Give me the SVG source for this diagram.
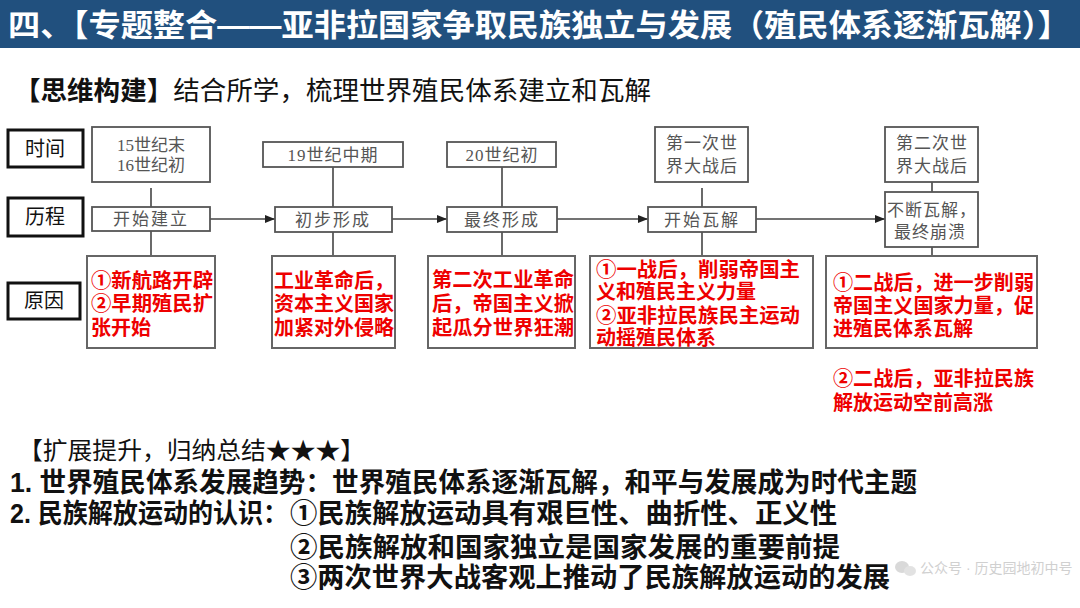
<svg xmlns="http://www.w3.org/2000/svg" width="1080" height="608" viewBox="0 0 1080 608">
<defs>
<style>
.sans{font-family:"Liberation Sans","Noto Sans CJK SC",sans-serif}
.lbl{fill:#fff;stroke:#111;stroke-width:3}
.gbox{fill:#fff;stroke:#555;stroke-width:1.8}
.cbox{fill:#fff;stroke:#666;stroke-width:2}
.gtxt{font-family:"Liberation Serif","Noto Sans CJK SC",serif;font-size:17px;fill:#555;text-anchor:middle}
.ltxt{font-family:"Liberation Sans","Noto Sans CJK SC",sans-serif;font-size:20px;fill:#111;text-anchor:middle}
.red{font-family:"Liberation Sans","Noto Sans CJK SC",sans-serif;font-size:20px;font-weight:700;fill:#ee0000}
.bt{font-family:"Liberation Sans","Noto Sans CJK SC",sans-serif;font-size:27px;font-weight:700;fill:#111}
.conn{stroke:#444;stroke-width:1.6;fill:none}
</style>
<marker id="ah" viewBox="0 0 10 8" refX="10" refY="4" markerWidth="10" markerHeight="8" markerUnits="userSpaceOnUse" orient="auto">
<path d="M0,0 L10,4 L0,8 z" fill="#222"/>
</marker>
</defs>
<rect width="1080" height="608" fill="#fff"/>

<g id="title">
<rect x="0" y="0" width="1080" height="48" fill="#21507e"/>
<text x="8" y="36" class="sans" font-size="31" font-weight="700" fill="#fff" textLength="1062" lengthAdjust="spacingAndGlyphs">四、【专题整合——亚非拉国家争取民族独立与发展（殖民体系逐渐瓦解）】</text>
</g>

<g id="subtitle">
<text x="14" y="100" class="sans" font-size="26" fill="#111" textLength="637" lengthAdjust="spacingAndGlyphs"><tspan font-weight="700">【思维构建】</tspan>结合所学，梳理世界殖民体系建立和瓦解</text>
</g>

<g id="row-labels">
<g id="lbl-time"><rect x="8" y="130" width="75" height="37" class="lbl"/><text x="45" y="156" class="ltxt">时间</text></g>
<g id="lbl-process"><rect x="8" y="198" width="75" height="38" class="lbl"/><text x="45" y="224" class="ltxt">历程</text></g>
<g id="lbl-cause"><rect x="8" y="283" width="72" height="36" class="lbl"/><text x="44" y="308" class="ltxt">原因</text></g>
</g>

<g id="connectors">
<line class="conn" x1="151" y1="188" x2="151" y2="207"/>
<line class="conn" x1="151" y1="231" x2="151" y2="256"/>
<line class="conn" x1="333" y1="167" x2="333" y2="207"/>
<line class="conn" x1="333" y1="232" x2="333" y2="256"/>
<line class="conn" x1="502" y1="167" x2="502" y2="207"/>
<line class="conn" x1="502" y1="232" x2="502" y2="256"/>
<line class="conn" x1="702" y1="188" x2="702" y2="207"/>
<line class="conn" x1="702" y1="232" x2="702" y2="256"/>
<line class="conn" x1="932" y1="182" x2="932" y2="192"/>
<line class="conn" x1="932" y1="247" x2="932" y2="256"/>
<line class="conn" x1="210" y1="219" x2="275" y2="219" marker-end="url(#ah)"/>
<line class="conn" x1="392" y1="219" x2="447" y2="219" marker-end="url(#ah)"/>
<line class="conn" x1="557" y1="219" x2="648" y2="219" marker-end="url(#ah)"/>
<line class="conn" x1="756" y1="219" x2="885" y2="219" marker-end="url(#ah)"/>
</g>

<g id="col1">
<g id="t1"><rect x="92" y="127" width="118" height="55" class="gbox"/><text x="151" y="151" class="gtxt">15世纪末</text><text x="151" y="171" class="gtxt">16世纪初</text></g>
<g id="p1"><rect x="92" y="207" width="118" height="24" class="gbox"/><text x="151" y="225" class="gtxt" letter-spacing="2">开始建立</text></g>
<g id="c1"><rect x="87" y="256" width="128" height="92" class="cbox"/>
<text x="91" y="288" class="red" textLength="122" lengthAdjust="spacingAndGlyphs">①新航路开辟</text>
<text x="91" y="311" class="red" textLength="122" lengthAdjust="spacingAndGlyphs">②早期殖民扩</text>
<text x="91" y="335" class="red">张开始</text></g>
</g>

<g id="col2">
<g id="t2"><rect x="263" y="142" width="140" height="25" class="gbox"/><text x="333" y="161" class="gtxt" letter-spacing="1">19世纪中期</text></g>
<g id="p2"><rect x="275" y="207" width="117" height="25" class="gbox"/><text x="333" y="226" class="gtxt" letter-spacing="2">初步形成</text></g>
<g id="c2"><rect x="272" y="256" width="123" height="92" class="cbox"/>
<text x="274" y="288" class="red">工业革命后，</text>
<text x="274" y="311" class="red" textLength="120" lengthAdjust="spacingAndGlyphs">资本主义国家</text>
<text x="274" y="335" class="red" textLength="120" lengthAdjust="spacingAndGlyphs">加紧对外侵略</text></g>
</g>

<g id="col3">
<g id="t3"><rect x="447" y="142" width="109" height="25" class="gbox"/><text x="502" y="161" class="gtxt" letter-spacing="1">20世纪初</text></g>
<g id="p3"><rect x="447" y="207" width="110" height="25" class="gbox"/><text x="502" y="226" class="gtxt" letter-spacing="2">最终形成</text></g>
<g id="c3"><rect x="428" y="256" width="147" height="92" class="cbox"/>
<text x="432" y="287" class="red" textLength="142" lengthAdjust="spacingAndGlyphs">第二次工业革命</text>
<text x="432" y="311" class="red" textLength="142" lengthAdjust="spacingAndGlyphs">后，帝国主义掀</text>
<text x="432" y="335" class="red" textLength="142" lengthAdjust="spacingAndGlyphs">起瓜分世界狂潮</text></g>
</g>

<g id="col4">
<g id="t4"><rect x="655" y="127" width="93" height="55" class="gbox"/><text x="702" y="149" class="gtxt" letter-spacing="1">第一次世</text><text x="702" y="172" class="gtxt" letter-spacing="1">界大战后</text></g>
<g id="p4"><rect x="648" y="207" width="108" height="25" class="gbox"/><text x="702" y="226" class="gtxt" letter-spacing="2">开始瓦解</text></g>
<g id="c4"><rect x="590" y="256" width="223" height="92" class="cbox"/>
<text x="596" y="277" class="red" textLength="204" lengthAdjust="spacingAndGlyphs">①一战后，削弱帝国主</text>
<text x="596" y="299" class="red">义和殖民主义力量</text>
<text x="596" y="323" class="red" textLength="204" lengthAdjust="spacingAndGlyphs">②亚非拉民族民主运动</text>
<text x="596" y="345" class="red">动摇殖民体系</text></g>
</g>

<g id="col5">
<g id="t5"><rect x="885" y="127" width="93" height="55" class="gbox"/><text x="932" y="149" class="gtxt" letter-spacing="1">第二次世</text><text x="932" y="172" class="gtxt" letter-spacing="1">界大战后</text></g>
<g id="p5"><rect x="885" y="192" width="93" height="55" class="gbox"/><text x="932" y="216" class="gtxt" letter-spacing="1">不断瓦解，</text><text x="930" y="238" class="gtxt" letter-spacing="1">最终崩溃</text></g>
<g id="c5"><rect x="826" y="256" width="211" height="92" class="cbox"/>
<text x="833" y="290" class="red" textLength="201" lengthAdjust="spacingAndGlyphs">①二战后，进一步削弱</text>
<text x="833" y="313" class="red" textLength="201" lengthAdjust="spacingAndGlyphs">帝国主义国家力量，促</text>
<text x="833" y="336" class="red">进殖民体系瓦解</text></g>
<g id="c5b">
<text x="833" y="386" class="red" textLength="201" lengthAdjust="spacingAndGlyphs">②二战后，亚非拉民族</text>
<text x="833" y="410" class="red">解放运动空前高涨</text></g>
</g>

<g id="watermark" opacity="0.55">
<ellipse cx="902" cy="567" rx="7" ry="6" fill="#bbb"/>
<ellipse cx="910" cy="571" rx="6" ry="5" fill="#ccc"/>
<text x="920" y="573" class="sans" font-size="14" fill="#aaa">公众号 · 历史园地初中号</text>
</g>

<g id="summary">
<text x="18" y="459" class="sans" font-size="24" fill="#111" textLength="347" lengthAdjust="spacingAndGlyphs">【扩展提升，归纳总结★★★】</text>
<text x="10" y="492" class="bt" textLength="907" lengthAdjust="spacingAndGlyphs">1. 世界殖民体系发展趋势：世界殖民体系逐渐瓦解，和平与发展成为时代主题</text>
<text x="10" y="523" class="bt" textLength="278" lengthAdjust="spacingAndGlyphs">2. 民族解放运动的认识：</text>
<text x="290" y="523" class="bt" textLength="547" lengthAdjust="spacingAndGlyphs">①民族解放运动具有艰巨性、曲折性、正义性</text>
<text x="290" y="557" class="bt" textLength="550" lengthAdjust="spacingAndGlyphs">②民族解放和国家独立是国家发展的重要前提</text>
<text x="290" y="587" class="bt" textLength="600" lengthAdjust="spacingAndGlyphs">③两次世界大战客观上推动了民族解放运动的发展</text>
</g>
</svg>
